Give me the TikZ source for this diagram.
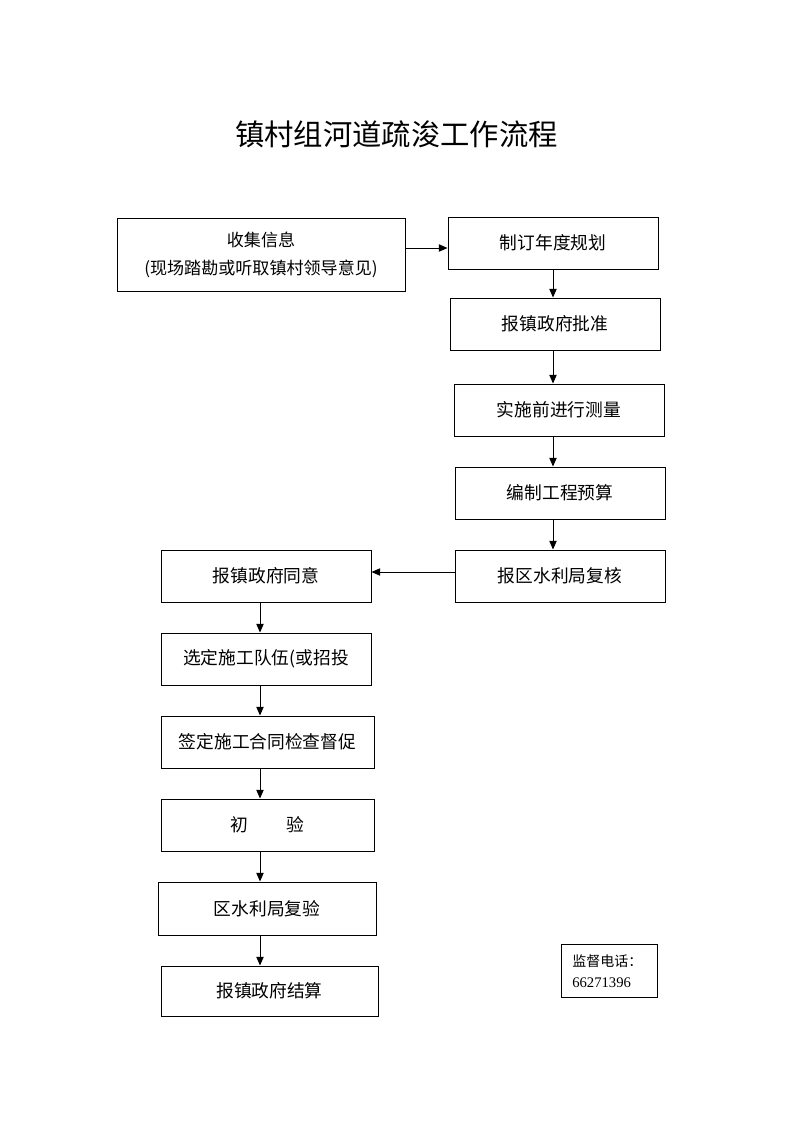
\documentclass[tikz,border=0pt]{standalone}
\usepackage{fontspec}
\setmainfont{Liberation Serif}
\newfontfamily\cjk{Noto Sans CJK SC}
\usetikzlibrary{arrows.meta}
\begin{document}
\begin{tikzpicture}[x=0.75pt,y=-0.75pt,
  box/.style={draw, line width=0.75pt, inner sep=0pt, align=center,
    font=\cjk\fontsize{13.3}{21}\selectfont},
  sz/.style 2 args={minimum width=#1*0.75pt, minimum height=#2*0.75pt},
  arr/.style={-{Triangle[length=6.5pt,width=5.5pt]}, line width=0.75pt},
  titlefont/.style={font=\cjk\fontsize{22}{26}\selectfont}]
\useasboundingbox (0,0) rectangle (793,1122);
\node[titlefont] (title) at (396.5,134) {镇村组河道疏浚工作流程};

\node[box, sz={288}{73}, font=\cjk\fontsize{12.8}{21}\selectfont] (b1) at (261,254.5) {收集信息\\(现场踏勘或听取镇村领导意见)};
\node[box, sz={210}{52}] (b2) at (553,243) {制订年度规划};
\node[box, sz={210}{52}] (b3) at (555,324) {报镇政府批准};
\node[box, sz={210}{52}] (b4) at (559,410) {实施前进行测量};
\node[box, sz={210}{52}] (b5) at (560,493) {编制工程预算};
\node[box, sz={210}{52}] (b6) at (560,576) {报区水利局复核};
\node[box, sz={210}{52}] (b7) at (266,576) {报镇政府同意};
\node[box, sz={210}{52}] (b8) at (266,659) {选定施工队伍(或招投};
\node[box, sz={213}{52}] (b9) at (267.5,742) {签定施工合同检查督促};
\node[box, sz={213}{52}] (b10) at (267.5,825) {初\hspace{2.2em}验};
\node[box, sz={218}{53}] (b11) at (267,908.5) {区水利局复验};
\node[box, sz={217}{50}] (b12) at (269.5,991) {报镇政府结算};
\node[draw, line width=0.75pt, sz={96}{53}, inner sep=0pt] (ph) at (609,970.5) {};
\node[anchor=west, inner sep=0pt, font=\cjk\fontsize{10.5}{12}\selectfont] (ph1) at (572,961) {监督电话：};
\node[anchor=west, inner sep=0pt, font=\fontsize{11}{12}\selectfont] (ph2) at (572,983) {66271396};

\coordinate (h1) at (0,248);
\coordinate (h2) at (0,572);
\coordinate (rx) at (553,0);
\coordinate (lx) at (260,0);

\draw[arr] (b1.east |- h1) -- (b2.west |- h1);
\draw[arr] (b2.south -| rx) -- (b3.north -| rx);
\draw[arr] (b3.south -| rx) -- (b4.north -| rx);
\draw[arr] (b4.south -| rx) -- (b5.north -| rx);
\draw[arr] (b5.south -| rx) -- (b6.north -| rx);
\draw[arr] (b6.west |- h2) -- (b7.east |- h2);
\draw[arr] (b7.south -| lx) -- (b8.north -| lx);
\draw[arr] (b8.south -| lx) -- (b9.north -| lx);
\draw[arr] (b9.south -| lx) -- (b10.north -| lx);
\draw[arr] (b10.south -| lx) -- (b11.north -| lx);
\draw[arr] (b11.south -| lx) -- (b12.north -| lx);
\end{tikzpicture}
\end{document}
